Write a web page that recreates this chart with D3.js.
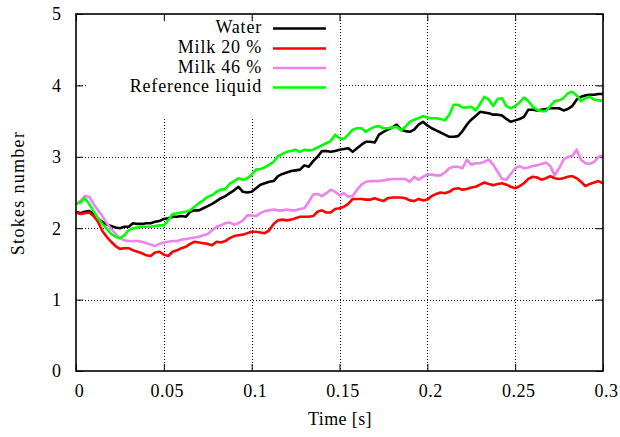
<!DOCTYPE html>
<html><head><meta charset="utf-8">
<script src="https://cdn.jsdelivr.net/npm/d3@7"></script>
<style>
html,body{margin:0;padding:0;background:#fff;}
svg text{font-family:"Liberation Serif","DejaVu Serif",serif !important;}
</style></head>
<body><svg id="chart" width="620" height="437"></svg>
<script>
// ---------- data ----------
const times = [0,0.0025,0.005,0.0075,0.01,0.0125,0.015,0.0175,0.02,0.0225,0.025,0.0275,0.03,0.0325,0.035,0.0375,0.04,0.0425,0.045,0.0475,
0.05,0.0525,0.055,0.0575,0.06,0.0625,0.065,0.0675,0.07,0.0725,0.075,0.0775,0.08,0.0825,0.085,0.0875,0.09,0.0925,0.095,0.0975,
0.1,0.1025,0.105,0.1075,0.11,0.1125,0.115,0.1175,0.12,0.1225,0.125,0.1275,0.13,0.1325,0.135,0.1375,0.14,0.1425,0.145,0.1475,
0.15,0.1525,0.155,0.1575,0.16,0.1625,0.165,0.1675,0.17,0.1725,0.175,0.1775,0.18,0.1825,0.185,0.1875,0.19,0.1925,0.195,0.1975,
0.2,0.2025,0.205,0.2075,0.21,0.2125,0.215,0.2175,0.22,0.2225,0.225,0.2275,0.23,0.2325,0.235,0.2375,0.24,0.2425,0.245,0.2475,
0.25,0.2525,0.255,0.2575,0.26,0.2625,0.265,0.2675,0.27,0.2725,0.275,0.2775,0.28,0.2825,0.285,0.2875,0.29,0.2925,0.295,0.2975,0.3];

const water = [2.23,2.21,2.23,2.24,2.20,2.13,2.09,2.05,2.03,2.01,
2.00,2.02,2.02,2.07,2.06,2.06,2.07,2.07,2.09,2.10,
2.13,2.14,2.16,2.16,2.17,2.16,2.23,2.25,2.25,2.28,
2.31,2.34,2.38,2.42,2.45,2.49,2.53,2.58,2.51,2.50,
2.51,2.56,2.61,2.63,2.65,2.66,2.73,2.76,2.78,2.80,
2.81,2.82,2.88,2.86,2.94,3.00,3.08,3.08,3.07,3.08,
3.10,3.11,3.12,3.07,3.12,3.17,3.21,3.21,3.20,3.31,
3.35,3.38,3.41,3.45,3.38,3.36,3.35,3.38,3.45,3.49,
3.44,3.40,3.37,3.34,3.31,3.28,3.28,3.29,3.36,3.45,
3.52,3.57,3.63,3.62,3.61,3.59,3.59,3.58,3.53,3.49,
3.51,3.53,3.56,3.66,3.66,3.65,3.66,3.67,3.68,3.68,
3.68,3.65,3.67,3.71,3.80,3.84,3.86,3.87,3.87,3.88,3.88];

const milk20 = [2.22,2.20,2.21,2.22,2.17,2.09,1.96,1.88,1.81,1.75,
1.71,1.72,1.72,1.69,1.67,1.65,1.62,1.61,1.66,1.67,
1.63,1.61,1.67,1.69,1.72,1.74,1.78,1.81,1.80,1.79,
1.78,1.76,1.81,1.80,1.82,1.86,1.89,1.90,1.91,1.93,
1.95,1.95,1.94,1.93,1.97,2.06,2.11,2.12,2.11,2.12,
2.14,2.16,2.16,2.16,2.17,2.23,2.25,2.22,2.22,2.27,
2.28,2.30,2.34,2.41,2.41,2.41,2.40,2.40,2.42,2.40,
2.38,2.42,2.43,2.43,2.43,2.42,2.39,2.38,2.41,2.39,
2.40,2.45,2.48,2.50,2.49,2.51,2.55,2.56,2.54,2.55,
2.57,2.58,2.61,2.64,2.62,2.60,2.62,2.63,2.61,2.58,
2.56,2.59,2.63,2.69,2.72,2.71,2.68,2.70,2.73,2.70,
2.69,2.70,2.72,2.73,2.70,2.65,2.59,2.62,2.64,2.66,2.63];

const milk46 = [2.34,2.38,2.45,2.44,2.34,2.25,2.17,2.07,1.99,1.92,
1.86,1.83,1.82,1.82,1.82,1.81,1.79,1.77,1.75,1.78,
1.80,1.81,1.82,1.82,1.84,1.85,1.86,1.87,1.88,1.90,
1.92,1.97,2.02,2.04,2.07,2.08,2.05,2.07,2.11,2.18,
2.18,2.17,2.21,2.24,2.25,2.26,2.25,2.25,2.26,2.25,
2.25,2.27,2.28,2.37,2.47,2.48,2.45,2.49,2.54,2.51,
2.46,2.49,2.44,2.45,2.54,2.61,2.65,2.66,2.66,2.66,
2.67,2.68,2.69,2.69,2.69,2.69,2.65,2.72,2.68,2.72,
2.75,2.75,2.74,2.74,2.78,2.84,2.86,2.86,2.84,2.96,
2.89,2.91,2.91,2.93,2.96,2.89,2.79,2.69,2.68,2.76,
2.84,2.87,2.84,2.85,2.87,2.88,2.90,2.92,2.87,2.74,
2.84,2.96,3.00,3.01,3.10,2.96,2.91,2.90,2.93,3.00,3.02];

const referenceLiquid = [2.34,2.36,2.42,2.34,2.24,2.14,2.06,1.99,1.92,1.88,
1.86,1.90,1.97,2.00,2.01,2.02,2.02,2.02,2.03,2.04,
2.04,2.11,2.20,2.21,2.22,2.23,2.25,2.30,2.35,2.39,
2.44,2.46,2.51,2.54,2.55,2.62,2.66,2.70,2.68,2.70,
2.75,2.82,2.83,2.85,2.89,2.93,3.01,3.04,3.07,3.08,
3.10,3.07,3.10,3.09,3.10,3.13,3.16,3.19,3.22,3.31,
3.26,3.25,3.31,3.38,3.40,3.40,3.35,3.39,3.42,3.43,
3.40,3.40,3.41,3.42,3.37,3.42,3.49,3.52,3.54,3.57,
3.55,3.54,3.54,3.53,3.51,3.59,3.73,3.73,3.69,3.69,
3.70,3.65,3.74,3.84,3.80,3.71,3.81,3.82,3.71,3.68,
3.71,3.76,3.83,3.78,3.70,3.66,3.64,3.64,3.71,3.78,
3.79,3.82,3.89,3.91,3.86,3.78,3.82,3.84,3.80,3.79,3.78];

const seriesNames = ["Water","Milk 20 %","Milk 46 %","Reference liquid"];
const seriesColors = ["#000000","#ff0000","#ee82ee","#00ff00"];
const xTicks = [0,0.05,0.1,0.15,0.2,0.25,0.3];
const xTickLabels = ["0","0.05","0.1","0.15","0.2","0.25","0.3"];
const yTicks = [0,1,2,3,4,5];
const yTickLabels = ["0","1","2","3","4","5"];
const xTitle = "Time [s]";
const yTitle = "Stokes number";

// ---------- drawing ----------
const svg = d3.select("#chart");
const L=76, R=603, T=14, B=371;
const x = d3.scaleLinear().domain([0,0.3]).range([L,R]);
const y = d3.scaleLinear().domain([0,5]).range([B,T]);
const FS = 18;
const FF = "Liberation Serif, DejaVu Serif, serif";

// grid
const grid = svg.append("g").attr("stroke","#000").attr("stroke-width",1).attr("stroke-dasharray","1,2");
xTicks.filter(d=>d>0 && d<0.3).forEach(d=>{
  grid.append("line").attr("x1",Math.round(x(d))+0.5).attr("x2",Math.round(x(d))+0.5).attr("y1",T).attr("y2",B);
});
yTicks.filter(d=>d>0 && d<5).forEach(d=>{
  grid.append("line").attr("x1",L).attr("x2",R).attr("y1",Math.round(y(d))+0.5).attr("y2",Math.round(y(d))+0.5);
});

// legend background (opaque key box)
svg.append("rect").attr("x",88).attr("y",21).attr("width",250).attr("height",96).attr("fill","#fff");

// axes with inward ticks (mirrored)
const tick = 7;
const gx = svg.append("g").attr("transform",`translate(0,${B})`)
  .call(d3.axisBottom(x).tickValues(xTicks).tickSize(-tick).tickFormat((d,i)=>xTickLabels[i]));
gx.attr("font-family",FF);
gx.select(".domain").remove();
gx.selectAll("text").attr("y",26).attr("dy",0).attr("dx",3).attr("font-size",FS)
  .attr("letter-spacing",0.5).attr("fill","#000");
const gxt = svg.append("g").attr("transform",`translate(0,${T})`)
  .call(d3.axisTop(x).tickValues(xTicks).tickSize(-tick).tickFormat(""));
gxt.select(".domain").remove();
const gy = svg.append("g").attr("transform",`translate(${L},0)`)
  .call(d3.axisLeft(y).tickValues(yTicks).tickSize(-tick).tickFormat((d,i)=>yTickLabels[i]));
gy.attr("font-family",FF);
gy.select(".domain").remove();
gy.selectAll("text").attr("x",-15).attr("dy","0.33em").attr("font-size",FS).attr("fill","#000");
const gyr = svg.append("g").attr("transform",`translate(${R},0)`)
  .call(d3.axisRight(y).tickValues(yTicks).tickSize(-tick).tickFormat(""));
gyr.select(".domain").remove();
svg.selectAll(".tick line").attr("stroke","#000").attr("stroke-width",1);

// series
const allSeries = [water, milk20, milk46, referenceLiquid];
const line = d3.line().x((d,i)=>x(times[i])).y(d=>y(d));
allSeries.forEach((s,k)=>{
  svg.append("path").datum(s).attr("d",line).attr("fill","none")
    .attr("stroke",seriesColors[k]).attr("stroke-width",2.6).attr("stroke-linejoin","round");
});

// border
svg.append("rect").attr("x",L).attr("y",T).attr("width",R-L).attr("height",B-T)
  .attr("fill","none").attr("stroke","#000").attr("stroke-width",1.6);

// legend
const legBase = [33,53,72.5,92];
seriesNames.forEach((n,k)=>{
  svg.append("text").attr("x",262).attr("y",legBase[k]).attr("text-anchor","end")
    .attr("font-family",FF).attr("font-size",FS).attr("letter-spacing",0.8).attr("fill","#000").text(n);
  svg.append("line").attr("x1",273).attr("x2",326).attr("y1",legBase[k]-4.5).attr("y2",legBase[k]-4.5)
    .attr("stroke",seriesColors[k]).attr("stroke-width",2.6);
});

// titles
svg.append("text").attr("x",340).attr("y",425).attr("text-anchor","middle").attr("font-family",FF)
  .attr("font-size",FS).attr("letter-spacing",0.4).text(xTitle);
svg.append("text").attr("transform","translate(24,193) rotate(-90)").attr("text-anchor","middle").attr("font-family",FF)
  .attr("font-size",FS).attr("letter-spacing",1.3).text(yTitle);
</script></body></html>
